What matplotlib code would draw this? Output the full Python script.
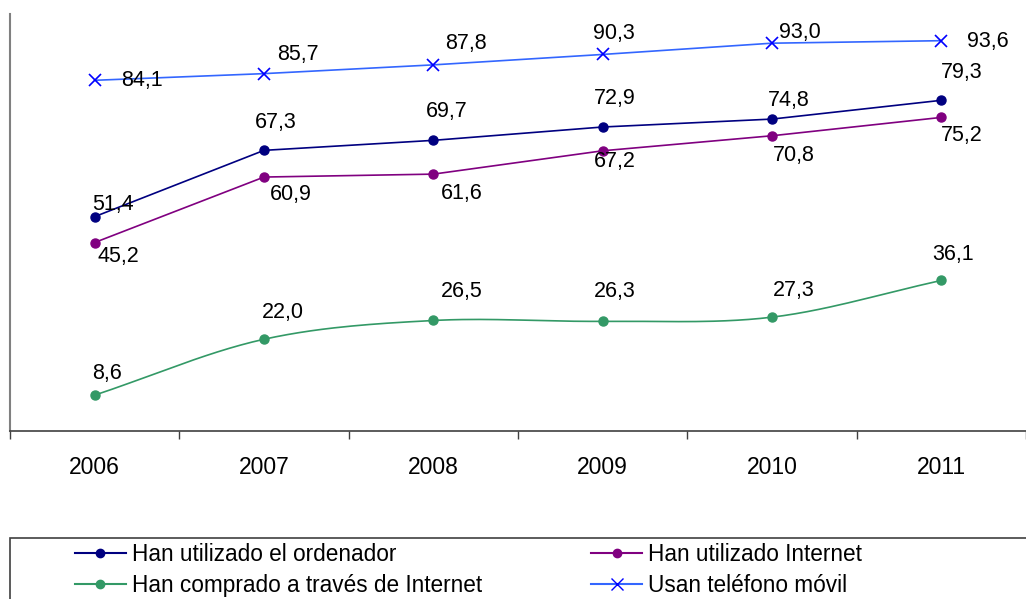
#!/usr/bin/env python3
"""Uso de TIC por los hogares 2006-2011 (porcentaje)."""

import matplotlib
matplotlib.use("Agg")
import matplotlib.pyplot as plt
import numpy as np
from matplotlib.lines import Line2D
from matplotlib.patches import Rectangle

years = ["2006", "2007", "2008", "2009", "2010", "2011"]
ordenador = [51.4, 67.3, 69.7, 72.9, 74.8, 79.3]
internet = [45.2, 60.9, 61.6, 67.2, 70.8, 75.2]
compras = [8.6, 22.0, 26.5, 26.3, 27.3, 36.1]
movil = [84.1, 85.7, 87.8, 90.3, 93.0, 93.6]

labels = [
    "Han utilizado el ordenador",
    "Han comprado a través de Internet",
    "Han utilizado Internet",
    "Usan teléfono móvil",
]

# label offsets in pixels (dx, dy), tuned by eye
off_ordenador = [(18, 12), (12, 28), (13, 29), (12, 29), (17, 19), (20, 28)]
off_internet = [(24, -14), (27, -17), (28, -19), (12, -11), (22, -20), (20, -18)]
off_compras = [(12, 22), (19, 27), (28, 29), (12, 30), (22, 27), (12, 26)]
off_movil = [(47, 0), (34, 19), (33, 21), (11, 21), (28, 11), (46, -1)]

FONT = ["Liberation Sans", "DejaVu Sans"]


def smooth(xs, ys, n=30):
    # Catmull-Rom curve through the points, like Excel's smoothed line
    xs = np.asarray(xs, float)
    ys = np.asarray(ys, float)
    px = np.concatenate([[2 * xs[0] - xs[1]], xs, [2 * xs[-1] - xs[-2]]])
    py = np.concatenate([[2 * ys[0] - ys[1]], ys, [2 * ys[-1] - ys[-2]]])
    outx, outy = [], []
    t = np.linspace(0, 1, n)
    for i in range(1, len(px) - 2):
        for p, out in ((px, outx), (py, outy)):
            p0, p1, p2, p3 = p[i - 1], p[i], p[i + 1], p[i + 2]
            out.extend(0.5 * ((2 * p1) + (-p0 + p2) * t
                              + (2 * p0 - 5 * p1 + 4 * p2 - p3) * t ** 2
                              + (-p0 + 3 * p1 - 3 * p2 + p3) * t ** 3))
    return outx, outy


fig = plt.figure(figsize=(10.26, 5.99), dpi=100)
ax = fig.add_axes([10 / 1026, 1 - 431 / 599, 1 - 10 / 1026, 417 / 599])

x = np.arange(len(years))

ax.plot(x, ordenador, color="#000080", lw=1.2, marker="o", ms=6.5, zorder=3)
ax.plot(x, internet, color="#800080", lw=1.2, marker="o", ms=6.5, zorder=3)
sx, sy = smooth(x, compras)
ax.plot(sx, sy, color="#339966", lw=1.2, zorder=3)
ax.plot(x, compras, ls="none", color="#339966", marker="o", ms=6.5, zorder=3)
ax.plot(x, movil, color="#3366FF", lw=1.2, zorder=3)
ax.plot(x, movil, ls="none", color="#0000FF", marker="x", ms=8, mew=1.2, zorder=4)

for vals, offs in ((ordenador, off_ordenador), (internet, off_internet),
                   (compras, off_compras), (movil, off_movil)):
    for xi, v, (dx, dy) in zip(x, vals, offs):
        ax.annotate(f"{v:.1f}".replace(".", ","), (xi, v), xytext=(dx, dy),
                    textcoords="offset pixels", ha="center", va="center",
                    fontsize=15.5, family=FONT, color="black", zorder=5)

ax.set_xlim(-0.5, len(years) - 0.5)
ax.set_ylim(0, 100)
ax.set_yticks([])
ax.set_xticks(x)
ax.set_xticklabels(years, fontsize=16.5, family=FONT)
ax.tick_params(axis="x", which="major", length=0, pad=18)
ax.set_xticks(np.arange(-0.5, len(years) + 0.5), minor=True)
ax.tick_params(axis="x", which="minor", length=6, width=1, color="#404040")
for s in ("top", "right"):
    ax.spines[s].set_visible(False)
ax.spines["left"].set_color("#808080")
ax.spines["left"].set_linewidth(1.5)
ax.spines["bottom"].set_color("#404040")
ax.spines["bottom"].set_linewidth(1.2)

# legend box
fig.patches.append(Rectangle((10 / 1026, -0.01), 1.0, 1 - 538 / 599 + 0.01,
                             transform=fig.transFigure, fill=False,
                             edgecolor="#404040", lw=1.2))
handles = [
    Line2D([], [], color="#000080", lw=1.5, marker="o", ms=6),
    Line2D([], [], color="#339966", lw=1.5, marker="o", ms=6),
    Line2D([], [], color="#800080", lw=1.5, marker="o", ms=6),
    Line2D([], [], color="#3366FF", lw=1.5, marker="x", ms=8,
           markeredgecolor="#0000FF"),
]
fig.legend(handles, labels, ncol=2, loc="center left",
           bbox_to_anchor=(75 / 1026, 1 - 570 / 599), frameon=False,
           prop={"family": FONT, "size": 16.3}, handlelength=2.25,
           handletextpad=0.27, columnspacing=4.82, labelspacing=0.33,
           borderpad=0, borderaxespad=0)

fig.savefig("out.png", dpi=100)
